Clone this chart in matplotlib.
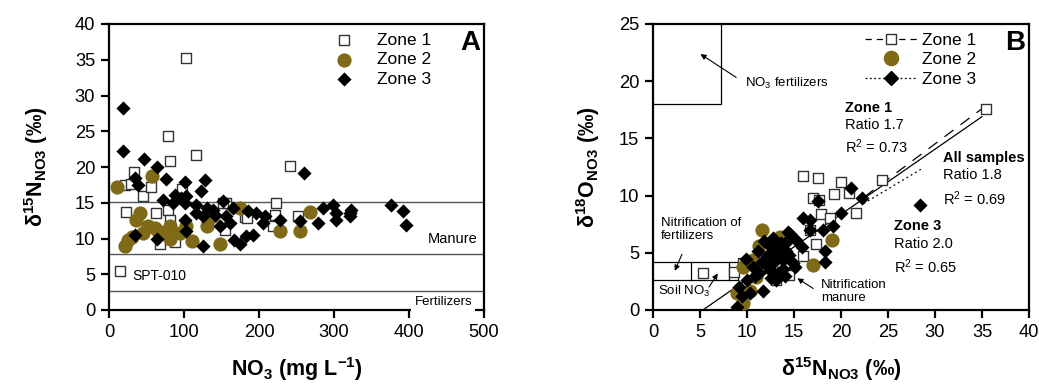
import matplotlib
matplotlib.use('Agg')
import matplotlib.pyplot as plt

plt.rcParams['font.family'] = ['Liberation Sans', 'DejaVu Sans']
plt.rcParams['mathtext.default'] = 'regular'

olive = '#7f6b17'

# Panel A: NO3 (mg/L) vs d15N
z1a_x = [102, 78, 81, 116, 241, 33, 21, 29, 45, 56, 97, 23, 62, 79, 81, 68, 88, 14,
         223, 221, 219, 252, 181, 156, 154, 152, 184]
z1a_y = [35.3, 24.4, 20.8, 21.7, 20.1, 19.3, 17.5, 17.6, 15.9, 17.2, 16.9, 13.7, 13.5, 14.0, 12.6, 9.3, 9.5, 5.4,
         14.9, 13.3, 11.7, 13.1, 13.0, 14.9, 11.2, 14.9, 12.8]

z2a_x = [10, 57, 21, 25, 41, 36, 45, 52, 61, 72, 81, 81, 94, 103, 110, 130, 132, 139, 148, 174,
         228, 254, 268, 30, 65]
z2a_y = [17.2, 18.8, 8.9, 9.8, 13.5, 12.6, 10.7, 11.7, 11.4, 10.7, 11.7, 10.0, 10.7, 11.7, 9.6, 11.7, 12.6, 13.1,
         9.2, 14.2, 11.0, 11.0, 13.7, 10.2, 11.0]

z3a_x = [18, 18, 46, 64, 34, 39, 76, 101, 128, 123, 260, 72, 88, 96, 85, 101, 116, 130, 139, 152,
         165, 185, 196, 208, 205, 228, 254, 279, 285, 299, 303, 303, 321, 323, 321, 376, 392, 396,
         34, 64, 102, 101, 125, 167, 174, 183, 192, 156, 148, 161, 116, 125, 141, 103]
z3a_y = [28.3, 22.2, 21.1, 20.0, 18.4, 17.5, 18.3, 17.9, 18.2, 16.6, 19.1, 15.4, 16.1, 15.6, 14.9, 14.9,
         14.7, 14.2, 14.0, 15.2, 14.2, 13.8, 13.5, 13.1, 12.1, 12.6, 12.4, 12.2, 14.2, 14.7, 13.5, 12.6,
         13.5, 14.0, 13.1, 14.7, 13.8, 11.9, 10.5, 9.9, 11.0, 12.6, 9.0, 9.8, 9.3, 10.3, 10.5, 13.1,
         11.7, 12.1, 13.5, 13.1, 13.3, 15.9]

# Panel B: d15N vs d18O
z1b_x = [35.4, 16.0, 17.6, 20.0, 24.4, 19.3, 17.0, 20.9, 21.6, 17.9, 18.8, 17.7, 17.3, 16.0, 14.5,
         5.3, 8.6, 9.6, 13.1, 14.2, 16.7]
z1b_y = [17.6, 11.7, 11.5, 11.2, 11.4, 10.1, 9.8, 10.2, 8.5, 8.4, 8.0, 9.6, 5.8, 4.7, 3.1,
         3.2, 3.3, 4.1, 2.6, 4.1, 7.0]

z2b_x = [11.6, 11.3, 13.5, 19.0, 17.0, 8.9, 9.6, 10.3, 10.6, 12.2, 12.8, 13.8, 9.6, 11.0, 14.2]
z2b_y = [7.0, 5.6, 6.4, 6.1, 3.9, 1.5, 0.6, 1.7, 4.4, 3.8, 5.0, 5.2, 3.8, 2.9, 6.1]

z3b_x = [28.4, 21.1, 22.2, 17.6, 20.0, 19.1, 18.1, 16.0, 16.7, 16.7, 18.3, 18.3, 14.4, 15.2, 12.8,
         11.2, 9.9, 10.6, 9.2, 8.9, 10.3, 11.7, 13.1, 12.8, 13.8, 14.9, 14.2, 13.5, 12.1, 12.4,
         11.3, 15.1, 15.8, 13.0, 12.0, 14.0, 13.3, 12.6, 11.8, 14.6,
         12.5, 13.2, 13.8, 14.5, 12.9, 13.6, 14.0, 11.6, 10.8, 10.0, 9.5]
z3b_y = [9.2, 10.7, 9.8, 9.5, 8.5, 7.3, 7.0, 8.0, 7.9, 7.0, 5.2, 4.2, 6.8, 6.1, 6.3,
         5.2, 4.5, 3.8, 2.0, 0.3, 1.5, 1.7, 2.6, 4.1, 4.4, 4.1, 5.2, 5.0, 4.7, 3.5,
         3.2, 3.8, 5.5, 5.6, 4.0, 5.9, 3.2, 2.8, 6.0, 6.6,
         5.5, 4.8, 3.6, 4.8, 6.0, 5.9, 3.0, 4.2, 3.0, 2.6, 1.2]

fig = plt.figure(figsize=(10.39, 3.85), dpi=100)
axA = fig.add_axes([109 / 1039, 75 / 385, 375 / 1039, 286 / 385])
axB = fig.add_axes([653 / 1039, 75 / 385, 376 / 1039, 286 / 385])

for ax in (axA, axB):
    for sp in ax.spines.values():
        sp.set_linewidth(1.6)
    ax.tick_params(direction='out', length=6, width=1.6, labelsize=13.2, pad=4)

sq = dict(marker='s', s=62, facecolors='white', edgecolors='#333333', linewidths=1.0, zorder=3)
ci = dict(marker='o', s=105, color=olive, linewidths=0, zorder=4)
di = dict(marker='D', s=52, color='black', linewidths=0, zorder=5)

# ---- panel A
axA.axhline(15.1, color='#555555', lw=1, zorder=1)
axA.axhline(7.9, color='#555555', lw=1, zorder=1)
axA.axhline(2.6, color='#555555', lw=1, zorder=1)
axA.scatter(z1a_x, z1a_y, label='Zone 1', **sq)
axA.scatter(z2a_x, z2a_y, label='Zone 2', **ci)
axA.scatter(z3a_x, z3a_y, label='Zone 3', **di)
axA.set_xlim(0, 500)
axA.set_ylim(0, 40)
axA.set_xticks(range(0, 501, 100))
axA.set_yticks(range(0, 41, 5))
axA.text(491, 9.9, 'Manure', ha='right', va='center', fontsize=10.5)
axA.text(31, 4.75, 'SPT-010', ha='left', va='center', fontsize=10)
axA.text(484, 1.1, 'Fertilizers', ha='right', va='center', fontsize=9.5, zorder=6, clip_on=False,
         bbox=dict(facecolor='white', edgecolor='none', pad=2.5))
axA.text(0.989, 0.934, 'A', transform=axA.transAxes, ha='right', va='center',
         fontsize=20, fontweight='bold')
axA.legend(loc='upper left', bbox_to_anchor=(0.558, 1.0), frameon=False, fontsize=12.5,
           handlelength=2.0, handletextpad=0.9, labelspacing=0.25, borderaxespad=0.1)
axA.set_xlabel('NO$_3$ (mg L$^{-1}$)', fontsize=15.5, fontweight='bold', labelpad=10)
axA.set_ylabel(r'$\delta^{15}N_{NO3}$ (‰)', fontsize=15.5, fontweight='bold', labelpad=18)

# ---- panel B
axB.plot([0, 7.2, 7.2], [18, 18, 25], color='black', lw=0.9, zorder=1)
axB.plot([0, 9.0], [2.6, 2.6], color='black', lw=0.9, zorder=1)
axB.plot([0, 9.0], [4.2, 4.2], color='black', lw=0.9, zorder=1)
for xv in (4.0, 8.1, 9.0):
    axB.plot([xv, xv], [2.6, 4.2], color='black', lw=0.9, zorder=1)

axB.scatter(z1b_x, z1b_y, **sq)
axB.scatter(z2b_x, z2b_y, **ci)
axB.scatter(z3b_x, z3b_y, **di)

# regression lines
axB.plot([5.3, 35.0], [0.0, 16.9], color='black', lw=0.9, zorder=2)
axB.plot([22.5, 35.0], [9.9, 17.6], color='black', lw=0.9, dashes=(9, 7), zorder=2)
axB.plot([22.4, 28.5], [9.3, 12.3], color='black', lw=0.9, linestyle=(0, (1.5, 2.5)), zorder=2)

# legend handles
axB.plot([], [], marker='s', ms=7.8, mfc='white', mec='#333333', mew=1.0, color='black',
         lw=0.9, dashes=(5, 4), label='Zone 1')
axB.plot([], [], marker='o', ms=10.2, color=olive, lw=0, label='Zone 2')
axB.plot([], [], marker='D', ms=7.2, color='black', lw=0.9, linestyle=(0, (1.5, 2.0)), label='Zone 3')
axB.legend(loc='upper left', bbox_to_anchor=(0.54, 1.0), frameon=False, fontsize=12.5,
           handlelength=3.0, handletextpad=0.3, labelspacing=0.25, borderaxespad=0.1)

axB.set_xlim(0, 40)
axB.set_ylim(0, 25)
axB.set_xticks(range(0, 41, 5))
axB.set_yticks(range(0, 26, 5))
axB.text(0.989, 0.934, 'B', transform=axB.transAxes, ha='right', va='center',
         fontsize=20, fontweight='bold')

fs = 10.5
axB.text(20.4, 17.7, 'Zone 1', fontsize=fs, fontweight='bold', va='center')
axB.text(20.4, 16.2, 'Ratio 1.7', fontsize=fs, va='center')
axB.text(20.4, 14.3, 'R$^2$ = 0.73', fontsize=fs, va='center')
axB.text(30.9, 13.3, 'All samples', fontsize=fs, fontweight='bold', va='center')
axB.text(30.9, 11.8, 'Ratio 1.8', fontsize=fs, va='center')
axB.text(30.9, 9.7, 'R$^2$ = 0.69', fontsize=fs, va='center')
axB.text(25.6, 7.3, 'Zone 3', fontsize=fs, fontweight='bold', va='center')
axB.text(25.6, 5.8, 'Ratio 2.0', fontsize=fs, va='center')
axB.text(25.6, 3.8, 'R$^2$ = 0.65', fontsize=fs, va='center')

fs2 = 9.5
axB.text(9.8, 19.8, 'NO$_3$ fertilizers', fontsize=fs2, va='center')
axB.annotate('', xy=(4.8, 22.5), xytext=(9.1, 20.2),
             arrowprops=dict(arrowstyle='-|>', color='black', lw=0.8, mutation_scale=8))
axB.text(0.8, 7.0, 'Nitrification of\nfertilizers', fontsize=fs2, va='center', linespacing=1.1)
axB.annotate('', xy=(2.2, 3.2), xytext=(3.2, 5.1),
             arrowprops=dict(arrowstyle='-|>', color='black', lw=0.8, mutation_scale=8))
axB.text(0.5, 1.6, 'Soil NO$_3$', fontsize=fs2, va='center')
axB.annotate('', xy=(7.05, 3.4), xytext=(5.8, 1.8),
             arrowprops=dict(arrowstyle='-|>', color='black', lw=0.8, mutation_scale=8))
axB.text(17.9, 1.6, 'Nitrification\nmanure', fontsize=fs2, va='center', linespacing=1.1)
axB.annotate('', xy=(15.1, 2.9), xytext=(17.3, 1.75),
             arrowprops=dict(arrowstyle='-|>', color='black', lw=0.8, mutation_scale=8))

axB.set_xlabel(r'$\delta^{15}N_{NO3}$ (‰)', fontsize=15.5, fontweight='bold', labelpad=10)
axB.set_ylabel(r'$\delta^{18}O_{NO3}$ (‰)', fontsize=15.5, fontweight='bold', labelpad=12)

fig.savefig('out.png', dpi=100)
